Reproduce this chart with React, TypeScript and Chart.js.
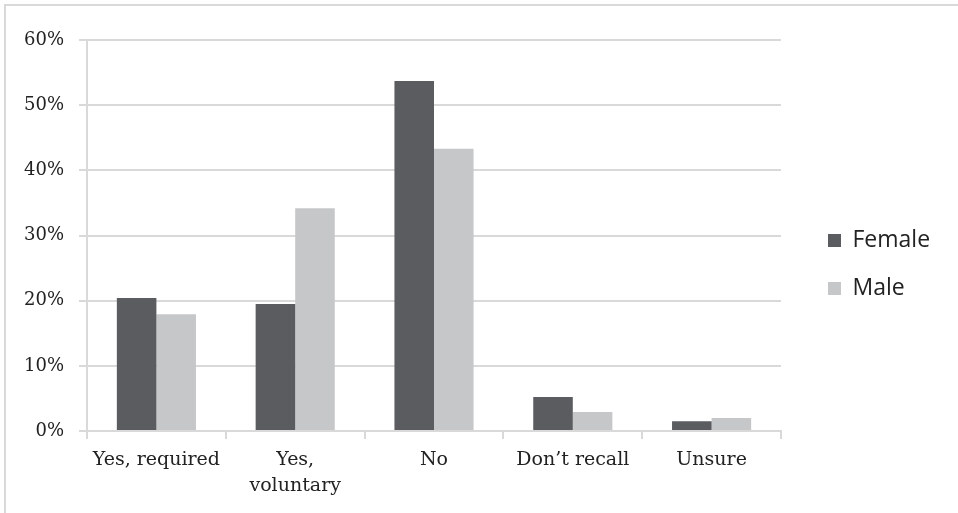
import React, { useEffect, useRef } from "react";
import { Chart, registerables } from "chart.js";

Chart.register(...registerables);

const categories: (string | string[])[] = [
  "Yes, required",
  ["Yes,", "voluntary"],
  "No",
  "Don\u2019t recall",
  "Unsure",
];
const femaleValues = [20.4, 19.5, 53.7, 5.2, 1.5];
const maleValues = [17.9, 34.2, 43.3, 2.9, 2.0];
const yMax = 60;
const yStep = 10;

const FEMALE_COLOR = "#5b5c60";
const MALE_COLOR = "#c6c7c9";
const GRID = "#d9d9d9";
const TEXT = "#222222";

const LEGEND_WIDTH = 177;
const LEGEND_SHIFT_X = 22;
const LEGEND_SHIFT_Y = -12;

const legendPlacer = {
  id: "legendPlacer",
  beforeLayout(chart: any) {
    const lg = chart.legend;
    if (lg && !lg.__patched) {
      const orig = lg.fit.bind(lg);
      lg.fit = () => {
        orig();
        lg.width = LEGEND_WIDTH;
      };
      lg.__patched = true;
    }
  },
  afterLayout(chart: any) {
    const lg = chart.legend;
    if (lg) {
      lg.left += LEGEND_SHIFT_X;
      lg.right += LEGEND_SHIFT_X;
      lg.top += LEGEND_SHIFT_Y;
      lg.bottom += LEGEND_SHIFT_Y;
    }
  },
};

export default function App() {
  const ref = useRef<HTMLCanvasElement | null>(null);

  useEffect(() => {
    if (!ref.current) return;
    const chart = new Chart(ref.current, {
      type: "bar",
      data: {
        labels: categories,
        datasets: [
          {
            label: "Female",
            data: femaleValues,
            backgroundColor: FEMALE_COLOR,
            borderWidth: 0,
          },
          {
            label: "Male",
            data: maleValues,
            backgroundColor: MALE_COLOR,
            borderWidth: 0,
          },
        ],
      },
      plugins: [legendPlacer],
      options: {
        animation: false,
        responsive: true,
        maintainAspectRatio: false,
        devicePixelRatio: 1,
        datasets: {
          bar: { categoryPercentage: 0.57, barPercentage: 1 },
        },
        layout: { padding: { top: 40, left: 0, right: 0, bottom: 0 } },
        plugins: {
          tooltip: { enabled: false },
          title: { display: false },
          legend: {
            position: "right",
            labels: {
              boxWidth: 13,
              boxHeight: 13,
              padding: 25,
              color: TEXT,
              font: { family: "'Open Sans'", size: 23 },
            },
          },
        },
        scales: {
          x: {
            afterFit: (s: any) => {
              s.height = 82;
            },
            grid: {
              display: true,
              offset: true,
              drawOnChartArea: false,
              drawTicks: true,
              tickLength: 8,
              color: GRID,
              lineWidth: 2,
            },
            border: { display: true, color: GRID, width: 2 },
            ticks: {
              color: TEXT,
              padding: 8,
              maxRotation: 0,
              autoSkip: false,
              font: { family: "'DejaVu Serif'", size: 19, lineHeight: 1.37 },
            },
          },
          y: {
            min: 0,
            max: yMax,
            afterFit: (s: any) => {
              s.width = 87;
            },
            grid: {
              color: GRID,
              lineWidth: 2,
              drawTicks: true,
              tickLength: 8,
            },
            border: { display: true, color: GRID, width: 2 },
            ticks: {
              stepSize: yStep,
              color: TEXT,
              padding: 15,
              font: { family: "'DejaVu Serif'", size: 18 },
              callback: (v: any) => `${v}%`,
            },
          },
        },
      },
    });
    return () => chart.destroy();
  }, []);

  return (
    <div
      style={{
        position: "absolute",
        left: 0,
        top: 0,
        width: 958,
        height: 513,
        background: "#ffffff",
        overflow: "hidden",
      }}
    >
      <div
        style={{
          position: "absolute",
          left: 4,
          top: 4,
          right: 0,
          bottom: -10,
          borderTop: `2px solid ${GRID}`,
          borderLeft: `2px solid ${GRID}`,
        }}
      />
      <div style={{ position: "absolute", left: 0, top: 0, width: 958, height: 513 }}>
        <canvas ref={ref} />
      </div>
    </div>
  );
}
